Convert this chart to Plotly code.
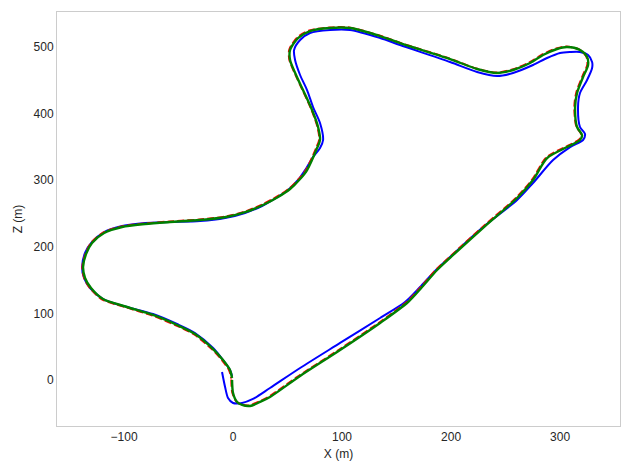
"""Trajectory comparison: ground truth vs two estimates, top view (X-Z)."""

import plotly.graph_objects as go

# ground truth (blue)
gt_x = [
    -10.1, -7.3, -4.6, 0.0, 8.3, 18.3, 33.9, 61.5, 98.2, 134.9, 157.8, 171.6, 185.3,
    199.1, 229.4, 260.6, 275.2, 293.6, 309.2, 321.1, 322.9, 318.3, 316.5, 318.3,
    324.8, 329.4, 329.4, 325.7, 318.3, 309.2, 300.0, 288.1, 275.2, 256.9, 242.2,
    223.9, 199.1, 153.2, 134.9, 107.3, 89.0, 70.6, 61.5, 56.0, 56.9, 61.5, 67.9,
    73.4, 79.8, 82.6, 79.8, 73.4, 66.1, 59.6, 50.5, 39.4, 26.6, 11.0, -7.3, -30.3,
    -57.8, -80.7, -101.8, -118.3, -129.4, -135.8, -138.5, -136.7, -131.2, -119.3,
    -97.2, -73.4, -51.4, -34.9, -18.3, -9.2, -2.8, -0.9,
]
gt_z = [
    12.0, -10.5, -27.0, -34.5, -34.5, -28.5, -12.0, 18.0, 55.6, 93.1, 117.1, 139.6,
    163.7, 184.7, 229.7, 270.3, 295.8, 330.3, 349.8, 360.4, 369.4, 379.9, 409.9,
    430.9, 450.5, 468.5, 477.5, 488.0, 492.5, 492.5, 491.0, 483.5, 473.0, 461.0,
    456.5, 462.5, 477.5, 503.0, 513.5, 525.5, 525.5, 521.0, 510.5, 495.5, 480.5,
    458.0, 435.4, 409.9, 385.9, 360.4, 348.3, 334.8, 315.3, 300.3, 285.3, 273.3,
    261.3, 250.8, 243.2, 238.7, 237.2, 235.7, 231.2, 222.2, 207.2, 190.7, 169.7,
    153.2, 138.1, 121.6, 109.6, 99.1, 84.1, 70.6, 48.0, 30.0, 15.0, 6.0,
]

# estimate A (green)
est_a_x = [
    -0.9, 0.0, 3.7, 8.3, 15.6, 24.8, 33.9, 61.5, 98.2, 134.9, 160.6, 173.4, 187.2,
    200.9, 231.2, 260.6, 275.2, 288.1, 306.4, 318.3, 320.2, 315.6, 313.8, 315.6,
    321.1, 325.7, 324.8, 318.3, 306.4, 297.2, 284.4, 272.5, 256.9, 242.2, 223.9,
    199.1, 153.2, 134.9, 107.3, 89.0, 70.6, 59.6, 52.3, 52.3, 57.8, 64.2, 72.5,
    78.0, 79.8, 77.1, 67.9, 61.5, 52.3, 41.3, 27.5, 11.9, -6.4, -30.3, -57.8,
    -80.7, -101.8, -118.3, -129.4, -134.9, -137.6, -135.8, -130.3, -119.3, -97.2,
    -73.4, -51.4, -34.9, -18.3, -9.2, -2.8, -0.9,
]
est_a_z = [
    0.0, -19.5, -33.0, -37.5, -39.0, -33.0, -25.5, 6.0, 45.0, 85.6, 117.1, 139.6,
    165.2, 186.2, 231.2, 273.3, 300.3, 333.3, 349.8, 360.4, 367.9, 379.9, 409.9,
    430.9, 454.9, 472.9, 485.0, 495.5, 500.0, 497.0, 488.0, 476.0, 465.5, 461.0,
    467.0, 482.0, 506.0, 516.5, 528.5, 528.5, 524.0, 513.5, 495.5, 480.5, 458.0,
    435.4, 405.4, 379.9, 360.4, 348.3, 315.3, 301.8, 286.8, 274.8, 262.8, 252.3,
    244.7, 240.2, 237.2, 234.2, 229.7, 220.7, 205.7, 189.2, 169.7, 153.2, 138.1,
    121.6, 109.6, 97.6, 82.6, 69.1, 46.5, 30.0, 15.0, 3.0,
]

# estimate B (red, dashed)
est_b_x = [
    -1.6, -0.7, 3.0, 7.6, 14.9, 24.1, 33.2, 60.8, 97.5, 134.2, 159.9, 172.7, 186.5,
    200.2, 230.5, 259.9, 274.5, 287.4, 305.7, 317.6, 319.5, 314.9, 313.1, 314.9,
    320.4, 325.0, 324.1, 317.6, 305.7, 296.5, 283.7, 271.8, 256.2, 241.5, 223.2,
    198.4, 152.5, 134.2, 106.6, 88.3, 69.9, 58.9, 51.6, 51.6, 57.1, 63.5, 71.8,
    77.3, 79.1, 76.4, 67.2, 60.8, 51.6, 40.6, 26.8, 11.2, -7.1, -31.0, -58.3,
    -81.2, -102.3, -118.9, -130.0, -135.6, -138.3, -136.4, -130.9, -119.9, -97.8,
    -74.0, -52.0, -35.6, -19.0, -9.9, -3.5, -1.6,
]
est_b_z = [
    0.8, -18.7, -32.2, -36.7, -38.2, -32.2, -24.7, 6.8, 45.8, 86.4, 117.9, 140.4,
    166.0, 187.0, 232.0, 274.1, 301.1, 334.1, 350.6, 361.2, 368.7, 380.7, 410.7,
    431.7, 455.7, 473.7, 485.8, 496.3, 500.8, 497.8, 488.8, 476.8, 466.3, 461.8,
    467.8, 482.8, 506.8, 517.3, 529.3, 529.3, 524.8, 514.3, 496.3, 481.3, 458.8,
    436.2, 406.2, 380.7, 361.2, 349.1, 316.1, 302.6, 287.6, 275.6, 263.6, 253.1,
    245.5, 241.0, 238.0, 235.0, 230.5, 221.5, 206.5, 188.4, 168.9, 152.4, 137.3,
    120.8, 108.8, 96.8, 81.8, 68.3, 45.7, 29.2, 14.2, 2.2,
]

FONT = "Liberation Sans, Arial, sans-serif"

fig = go.Figure()
fig.add_trace(go.Scatter(
    x=gt_x, y=gt_z, mode="lines", name="ground truth",
    line=dict(color="#0000ff", width=2, shape="spline", smoothing=0.8),
))
fig.add_trace(go.Scatter(
    x=est_b_x, y=est_b_z, mode="lines", name="estimate B",
    line=dict(color="#ff0000", width=2, dash="7px,3px", shape="spline", smoothing=0.8),
))
fig.add_trace(go.Scatter(
    x=est_a_x, y=est_a_z, mode="lines", name="estimate A",
    line=dict(color="#008000", width=2.4, shape="spline", smoothing=0.8),
))

axis_common = dict(
    showgrid=False,
    zeroline=False,
    showline=True,
    mirror=True,
    linecolor="#cccccc",
    linewidth=1,
    ticks="",
    automargin=False,
    tickfont=dict(family=FONT, size=12, color="#262626"),
)
# the page body keeps its default 8px margin, so the figure is 8px smaller
fig.update_layout(
    width=622,
    height=462,
    showlegend=False,
    plot_bgcolor="white",
    paper_bgcolor="white",
    margin=dict(l=49, r=10, t=4, b=44),
    xaxis=dict(
        range=[-161.5, 355.0],
        tickvals=[-100, 0, 100, 200, 300],
        ticktext=["\u2212100", "0", "100", "200", "300"],
        title=dict(text="X (m)", standoff=6, font=dict(family=FONT, size=12, color="#262626")),
        **axis_common,
    ),
    yaxis=dict(
        range=[-69.1, 552.6],
        tickvals=[0, 100, 200, 300, 400, 500],
        title=dict(text="Z (m)", standoff=8, font=dict(family=FONT, size=12, color="#262626")),
        **axis_common,
    ),
)

fig.write_html("out.html")
